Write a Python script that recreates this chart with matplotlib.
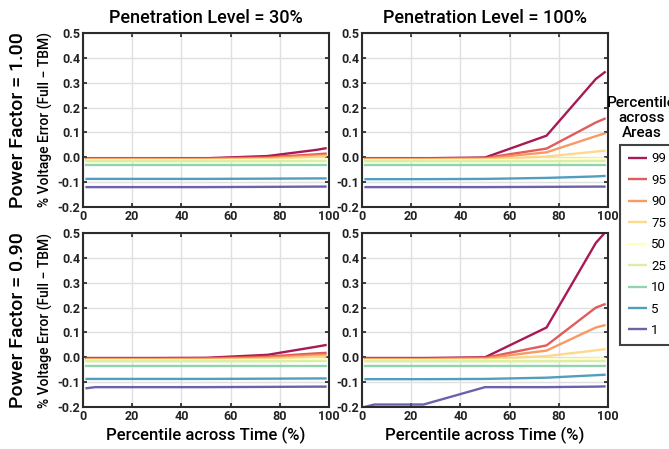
import matplotlib.pyplot as plt
import numpy as np

plt.rcParams["font.family"] = ["Roboto", "DejaVu Sans"]

time_pct = [1, 5, 25, 50, 75, 95, 99]
area_pct = ["99", "95", "90", "75", "50", "25", "10", "5", "1"]

# PF = 1.00, penetration 30%
pf100_pen30 = [
    [-0.005, -0.005, -0.005, -0.004, 0.005, 0.030, 0.037],
    [-0.006, -0.006, -0.006, -0.005, 0.000, 0.012, 0.015],
    [-0.008, -0.008, -0.008, -0.007, -0.003, 0.007, 0.009],
    [-0.010, -0.010, -0.010, -0.010, -0.007, 0.002, 0.004],
    [-0.012, -0.012, -0.012, -0.012, -0.011, -0.009, -0.008],
    [-0.016, -0.016, -0.016, -0.016, -0.016, -0.015, -0.015],
    [-0.033, -0.033, -0.033, -0.033, -0.033, -0.033, -0.033],
    [-0.087, -0.087, -0.087, -0.087, -0.086, -0.085, -0.085],
    [-0.120, -0.120, -0.120, -0.120, -0.119, -0.118, -0.118],
]
# PF = 1.00, penetration 100%
pf100_pen100 = [
    [-0.004, -0.004, -0.004, -0.001, 0.087, 0.315, 0.345],
    [-0.005, -0.005, -0.005, -0.003, 0.035, 0.140, 0.157],
    [-0.007, -0.007, -0.007, -0.005, 0.020, 0.085, 0.097],
    [-0.010, -0.010, -0.010, -0.008, 0.003, 0.023, 0.027],
    [-0.012, -0.012, -0.012, -0.012, -0.010, -0.006, -0.005],
    [-0.016, -0.016, -0.016, -0.016, -0.016, -0.015, -0.015],
    [-0.033, -0.033, -0.033, -0.033, -0.033, -0.033, -0.033],
    [-0.088, -0.088, -0.088, -0.087, -0.083, -0.077, -0.075],
    [-0.120, -0.120, -0.120, -0.120, -0.119, -0.118, -0.118],
]
# PF = 0.90, penetration 30%
pf090_pen30 = [
    [-0.003, -0.003, -0.003, -0.002, 0.010, 0.043, 0.050],
    [-0.005, -0.005, -0.005, -0.004, 0.003, 0.016, 0.018],
    [-0.007, -0.007, -0.007, -0.006, -0.001, 0.009, 0.010],
    [-0.010, -0.010, -0.010, -0.010, -0.006, 0.002, 0.003],
    [-0.012, -0.012, -0.012, -0.012, -0.011, -0.009, -0.008],
    [-0.016, -0.016, -0.016, -0.016, -0.016, -0.015, -0.015],
    [-0.033, -0.033, -0.033, -0.033, -0.033, -0.033, -0.033],
    [-0.087, -0.087, -0.087, -0.087, -0.086, -0.085, -0.085],
    [-0.125, -0.120, -0.120, -0.120, -0.119, -0.118, -0.118],
]
# PF = 0.90, penetration 100%
pf090_pen100 = [
    [-0.003, -0.003, -0.003, 0.000, 0.120, 0.460, 0.505],
    [-0.005, -0.005, -0.005, -0.002, 0.048, 0.200, 0.215],
    [-0.007, -0.007, -0.007, -0.004, 0.027, 0.120, 0.130],
    [-0.010, -0.010, -0.010, -0.008, 0.005, 0.028, 0.033],
    [-0.012, -0.012, -0.012, -0.012, -0.010, -0.006, -0.005],
    [-0.016, -0.016, -0.016, -0.016, -0.016, -0.015, -0.015],
    [-0.033, -0.033, -0.033, -0.033, -0.033, -0.033, -0.033],
    [-0.088, -0.088, -0.088, -0.087, -0.082, -0.072, -0.070],
    [-0.200, -0.190, -0.190, -0.120, -0.120, -0.118, -0.117],
]

col_titles = ["Penetration Level = 30%", "Penetration Level = 100%"]
row_titles = ["Power Factor = 1.00", "Power Factor = 0.90"]
panels = [[pf100_pen30, pf100_pen100], [pf090_pen30, pf090_pen100]]

colors = plt.cm.Spectral(np.linspace(0, 1, len(area_pct)))

fig = plt.figure(figsize=(6.69, 4.49), dpi=100)

lefts = [0.124, 0.541]
bottoms = [0.539, 0.0935]
width = 0.368
height = 0.3875

handles = []
for r in range(2):
    for c in range(2):
        ax = fig.add_axes([lefts[c], bottoms[r], width, height])
        for k, series in enumerate(panels[r][c]):
            (ln,) = ax.plot(time_pct, series, color=colors[k], lw=1.7, alpha=0.9,
                            label=area_pct[k], solid_capstyle="butt")
            if r == 0 and c == 0:
                handles.append(ln)
        ax.set_xlim(0, 100)
        ax.set_ylim(-0.2, 0.5)
        ax.set_xticks(np.arange(0, 101, 20))
        ax.set_yticks(np.arange(-0.2, 0.51, 0.1))
        ax.set_yticklabels(["-0.2", "-0.1", "0.0", "0.1", "0.2", "0.3", "0.4", "0.5"])
        ax.grid(True, color="#e0e0e0", lw=1.0)
        ax.set_axisbelow(True)
        ax.tick_params(direction="in", length=3, width=1.2, top=True, right=True,
                       labelsize=9, colors="#222222", pad=2)
        for lab in ax.get_xticklabels() + ax.get_yticklabels():
            lab.set_fontweight("bold")
        for sp in ax.spines.values():
            sp.set_color("#2b2b2b")
            sp.set_linewidth(1.5)
        if r == 0:
            ax.set_title(col_titles[c], fontsize=13, fontweight="medium", pad=7)
        if r == 1:
            ax.set_xlabel("Percentile across Time (%)", fontsize=12,
                          fontweight="medium", labelpad=3)
        if c == 0:
            ax.set_ylabel("% Voltage Error (Full \u2212 TBM)", fontsize=10,
                          fontweight="medium", labelpad=3)
            fig.text(0.027, bottoms[r] + height / 2, row_titles[r], rotation=90,
                     fontsize=14, fontweight="medium", ha="center", va="center")

fig.text(0.959, 0.738, "Percentile\nacross\nAreas", ha="center", va="center",
         fontsize=11, fontweight="medium", linespacing=1.1)
leg = fig.legend(handles=handles, loc="upper left", bbox_to_anchor=(0.927, 0.678),
                 frameon=True, fancybox=False, edgecolor="#111111", fontsize=9.5,
                 handlelength=1.45, handletextpad=0.3, labelspacing=0.64,
                 borderpad=0.6, borderaxespad=0)
leg.get_frame().set_linewidth(1.5)

fig.savefig("out.png", dpi=100)
